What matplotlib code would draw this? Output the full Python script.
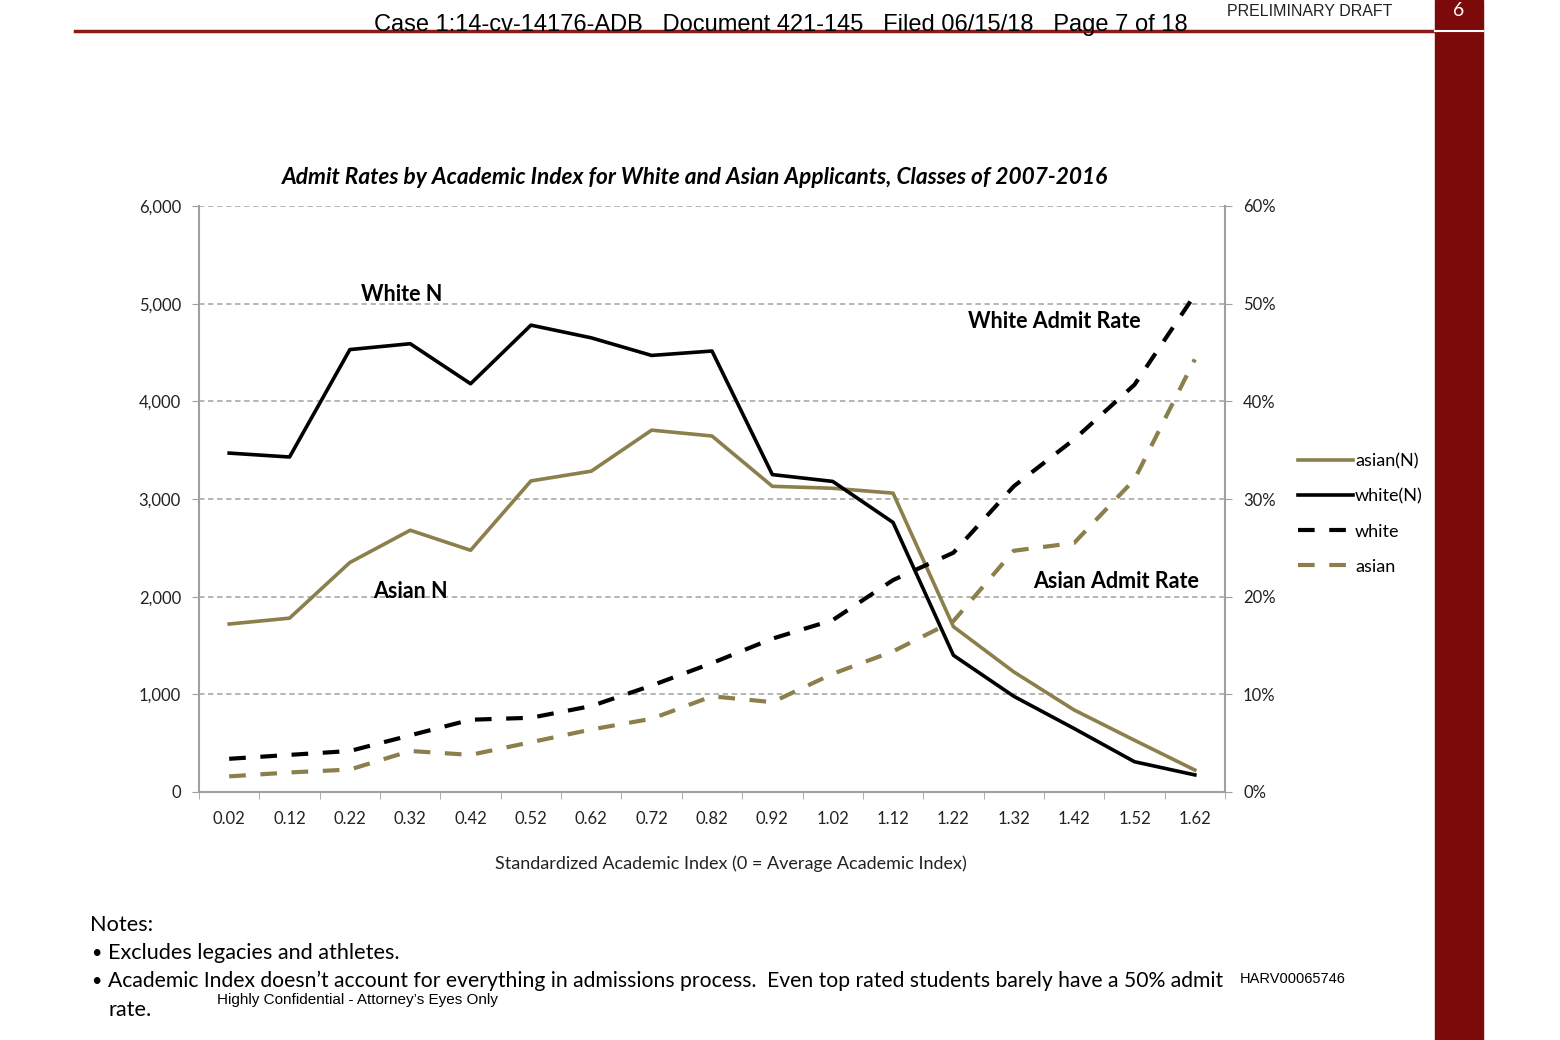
import numpy as np
import matplotlib
matplotlib.use('Agg')
import matplotlib.pyplot as plt
from matplotlib.lines import Line2D
from matplotlib.patches import Rectangle
from matplotlib.ticker import FuncFormatter, MultipleLocator

# %% data
index_labels = ['0.02', '0.12', '0.22', '0.32', '0.42', '0.52', '0.62', '0.72', '0.82',
                '0.92', '1.02', '1.12', '1.22', '1.32', '1.42', '1.52', '1.62']
asian_n = [1720, 1780, 2350, 2680, 2475, 3185, 3285, 3705, 3645,
           3130, 3110, 3060, 1693, 1230, 840, 530, 225]
white_n = [3470, 3430, 4530, 4590, 4180, 4780, 4650, 4470, 4515,
           3250, 3180, 2760, 1400, 980, 650, 310, 175]
white_rate = [3.4, 3.8, 4.2, 5.8, 7.4, 7.6, 8.8, 10.9, 13.2,
              15.7, 17.6, 21.7, 24.5, 31.3, 36.1, 41.7, 50.9]
asian_rate = [1.6, 2.0, 2.3, 4.2, 3.8, 5.1, 6.4, 7.5, 9.8,
              9.2, 12.1, 14.4, 17.5, 24.7, 25.5, 32.0, 44.3]

OLIVE = '#8b7f4c'
MAROON = '#7d0a0a'
FONT = ['Lato', 'DejaVu Sans']
NARROW = ['Liberation Sans Narrow', 'Liberation Sans', 'DejaVu Sans']

plt.rcParams['font.family'] = FONT

fig = plt.figure(figsize=(15.6, 10.4), dpi=100)

# %% page decorations
fig.add_artist(Rectangle((1435 / 1560, 0), 48 / 1560, 1, transform=fig.transFigure,
                         color=MAROON, zorder=0))
fig.add_artist(Line2D([75 / 1560, 1435 / 1560], [1 - 31 / 1040] * 2,
                      transform=fig.transFigure, color='#8b1a1a', lw=2.5))
fig.add_artist(Line2D([1435 / 1560, 1483 / 1560], [1 - 31 / 1040] * 2,
                      transform=fig.transFigure, color='white', lw=1.5))
fig.text(1459 / 1560, 1 - 10 / 1040, '6', color='white', fontsize=14,
         ha='center', va='center', family=FONT)
fig.text(1310 / 1560, 1 - 12 / 1040, 'PRELIMINARY DRAFT', color='#222222', fontsize=11.5,
         ha='center', va='center', family=NARROW)
fig.text(781 / 1560, 1 - 25 / 1040,
         'Case 1:14-cv-14176-ADB   Document 421-145   Filed 06/15/18   Page 7 of 18',
         fontsize=17, ha='center', va='center', family=NARROW)

# %% chart
ax = fig.add_axes([199 / 1560, 1 - 792 / 1040, 1026 / 1560, 586 / 1040])
x = np.arange(len(index_labels))

ax.plot(x, asian_n, color=OLIVE, lw=2.6, label='asian(N)', zorder=3)
ax.plot(x, white_n, color='black', lw=2.6, label='white(N)', zorder=3)
ax.set_ylim(0, 6000)
ax.set_xlim(-0.5, len(index_labels) - 0.5)
ax.yaxis.set_major_locator(MultipleLocator(1000))
ax.yaxis.set_major_formatter(FuncFormatter(lambda v, p: f'{int(v):,}'))
ax.set_xticks(x)
ax.set_xticklabels(index_labels)
ax.set_xticks(np.arange(-0.5, len(index_labels)), minor=True)
ax.tick_params(axis='x', which='major', length=0, pad=14, labelsize=12, labelcolor='#222222')
ax.tick_params(axis='x', which='minor', length=5, color='#a0a0a0')
ax.tick_params(axis='y', length=5, color='#a0a0a0', labelsize=12, labelcolor='#222222', pad=8)
ax.grid(axis='y', color='#b0b0b0', ls=(0, (3, 2)), lw=1.3)
ax.set_axisbelow(True)
for side in ['left', 'right', 'bottom']:
    ax.spines[side].set_color('#a0a0a0')
    ax.spines[side].set_linewidth(1.5)
ax.spines['top'].set_visible(False)
ax.set_xlabel('Standardized Academic Index (0 = Average Academic Index)',
              fontsize=13, color='#222222', labelpad=20, x=0.5185)

ax2 = ax.twinx()
ax2.plot(x, white_rate, color='black', lw=3, dashes=(4, 3.5), label='white', zorder=3)
ax2.plot(x, asian_rate, color=OLIVE, lw=3, dashes=(4, 3.5), label='asian', zorder=3)
ax2.set_ylim(0, 60)
ax2.yaxis.set_major_locator(MultipleLocator(10))
ax2.yaxis.set_major_formatter(FuncFormatter(lambda v, p: f'{int(v)}%'))
ax2.tick_params(axis='y', length=5, color='#a0a0a0', labelsize=12, labelcolor='#222222', pad=8)
for s in ax2.spines.values():
    s.set_visible(False)

ax.set_title('Admit Rates by Academic Index for White and Asian Applicants, Classes of 2007-2016',
             fontsize=16.3, fontweight='bold', style='italic', pad=15.5, x=0.4834)

ax.text(2.86, 5089, 'White N', fontsize=15.5, fontweight='bold', ha='center', va='center')
ax.text(3.01, 2048, 'Asian N', fontsize=15.5, fontweight='bold', ha='center', va='center')
ax.text(13.67, 4822, 'White Admit Rate', fontsize=15.5, fontweight='bold', ha='center', va='center')
ax.text(14.69, 2160, 'Asian Admit Rate', fontsize=15.5, fontweight='bold', ha='center', va='center')

h1, l1 = ax.get_legend_handles_labels()
h2, l2 = ax2.get_legend_handles_labels()
fig.legend(h1 + h2, l1 + l2, loc='center left', bbox_to_anchor=(1291 / 1560, 1 - 514 / 1040),
           frameon=False, fontsize=13, handlelength=3.05, handletextpad=0.1,
           labelspacing=1.05, borderaxespad=0)

# %% notes
fig.text(90 / 1560, 1 - 925 / 1040, 'Notes:', fontsize=15.6, va='center')
fig.text(91 / 1560, 1 - 953 / 1040, '•', fontsize=13, va='center')
fig.text(108 / 1560, 1 - 953 / 1040, 'Excludes legacies and athletes.', fontsize=15.6, va='center')
fig.text(91 / 1560, 1 - 981 / 1040, '•', fontsize=13, va='center')
fig.text(108 / 1560, 1 - 981 / 1040,
         'Academic Index doesn’t account for everything in admissions process.  '
         'Even top rated students barely have a 50% admit',
         fontsize=15.2, va='center')
fig.text(108 / 1560, 1 - 1010 / 1040, 'rate.', fontsize=15.6, va='center')
fig.text(1240 / 1560, 1 - 979 / 1040, 'HARV00065746', fontsize=10.5, va='center', family=NARROW)
fig.text(217 / 1560, 1 - 1000 / 1040, 'Highly Confidential - Attorney’s Eyes Only',
         fontsize=11, va='center', family=NARROW)

fig.savefig('out.png', dpi=100)
